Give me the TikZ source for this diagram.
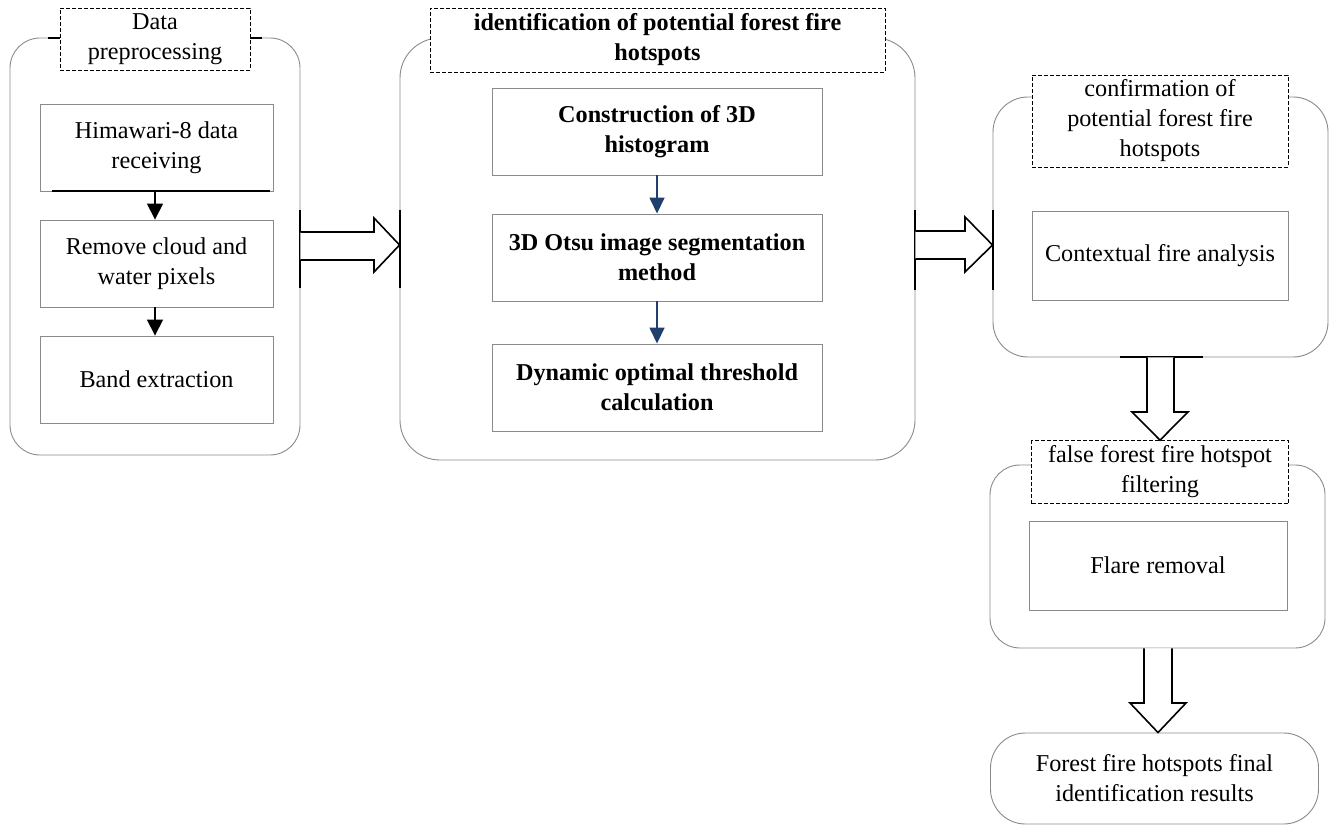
\documentclass[tikz,border=0pt]{standalone}
\usepackage{fontspec}
\setmainfont{Liberation Serif}
\usetikzlibrary{arrows.meta,calc}
\definecolor{navy}{HTML}{1F3F6E}
\definecolor{boxgray}{HTML}{8A8A8A}
\begin{document}
\begin{tikzpicture}[x=1pt,y=-1pt,
  txt/.style={font=\fontsize{24.2}{30}\selectfont, align=center},
  bftxt/.style={font=\fontsize{24.2}{30}\selectfont\bfseries},
  outerbox/.style={draw=boxgray, line width=0.9pt, rounded corners=#1, inner sep=0pt},
  innerbox/.style={txt, draw=boxgray, line width=0.9pt, inner sep=0pt, fill=white},
  titlebox/.style={txt, draw=black, dash pattern=on 4pt off 2pt, line width=0.7pt, inner sep=0pt, fill=white},
  smallarrow/.style={-{Triangle[length=16pt,width=16pt]}, line width=1.6pt, black},
  navyarrow/.style={-{Triangle[length=16pt,width=15pt]}, line width=1.6pt, navy},
  bar/.style={line width=2pt, black},
  bigarrow/.style={draw=black, line width=1.6pt, fill=white, line join=miter}
]
\useasboundingbox (0,0) rectangle (1336,826);

% ---------- box 1 ----------
\node[outerbox=30pt, minimum width=290pt, minimum height=417pt] (o1) at (155,246.5) {};
\draw[bar] (48,38) -- (60,38);
\draw[bar] (250,38) -- (262,38);
\node[titlebox, minimum width=190pt, minimum height=62pt] (t1) at (155,39) {Data\\preprocessing};
\node[innerbox, minimum width=233pt, minimum height=87pt] (a1) at (156.5,147.5) {Himawari-8 data\\receiving};
\draw[bar] (52,191) -- (270,191);
\node[innerbox, minimum width=233pt, minimum height=87pt] (a2) at (156.5,263.5) {Remove cloud and\\water pixels};
\node[innerbox, minimum width=233pt, minimum height=87pt] (a3) at (156.5,379.5) {Band extraction};
\draw[smallarrow] ($(a1.south)+(-1.5,0)$) -- ($(a2.north)+(-1.5,0)$);
\draw[smallarrow] ($(a2.south)+(-1.5,0)$) -- ($(a3.north)+(-1.5,0)$);

% ---------- box 2 ----------
\node[outerbox=40pt, minimum width=515pt, minimum height=422pt] (o2) at (657.5,249) {};
\node[titlebox, bftxt, minimum width=455pt, minimum height=64pt] (t2) at (657.5,40) {identification of potential forest fire\\hotspots};
\node[innerbox, bftxt, minimum width=330pt, minimum height=87pt] (b1) at (657,131.5) {Construction of 3D\\histogram};
\node[innerbox, bftxt, minimum width=330pt, minimum height=87pt] (b2) at (657,257.5) {3D Otsu image segmentation\\method};
\node[innerbox, bftxt, minimum width=330pt, minimum height=87pt] (b3) at (657,387.5) {Dynamic optimal threshold\\calculation};
\draw[navyarrow] (b1.south) -- (b2.north);
\draw[navyarrow] (b2.south) -- (b3.north);

% ---------- box 3 ----------
\node[outerbox=35pt, minimum width=335pt, minimum height=260pt] (o3) at (1160.5,227) {};
\node[titlebox, minimum width=256pt, minimum height=92pt] (t3) at (1160,121) {confirmation of\\potential forest fire\\hotspots};
\node[innerbox, minimum width=256pt, minimum height=89pt] (c1) at (1160,255.5) {Contextual fire analysis};

% ---------- box 4 ----------
\node[outerbox=30pt, minimum width=335pt, minimum height=183pt] (o4) at (1157.5,556.5) {};
\node[titlebox, minimum width=257pt, minimum height=63pt] (t4) at (1160,472) {false forest fire hotspot\\filtering};
\node[innerbox, minimum width=258pt, minimum height=89pt] (d1) at (1158,565.5) {Flare removal};

% ---------- box 5 ----------
\node[txt, outerbox=35pt, minimum width=328pt, minimum height=91pt] (o5) at (1154.5,778.5) {Forest fire hotspots final\\identification results};

% ---------- big arrows ----------
% box1 -> box2
\draw[bar] (o1.east |- 0,210) -- (o1.east |- 0,288);
\draw[bar] (o2.west |- 0,210) -- (o2.west |- 0,288);
\draw[bigarrow] (o1.east |- 0,232) -- (374,232) -- (374,218) -- (o2.west |- 0,245) -- (374,272) -- (374,260) -- (o1.east |- 0,260);
% box2 -> box3
\draw[bar] (o2.east |- 0,210) -- (o2.east |- 0,290);
\draw[bar] (o3.west |- 0,210) -- (o3.west |- 0,290);
\draw[bigarrow] (o2.east |- 0,231) -- (965,231) -- (965,217) -- (o3.west |- 0,245) -- (965,272) -- (965,259) -- (o2.east |- 0,259);
% box3 -> box4
\draw[bar] (1120,357) -- (1203,357);
\draw[bigarrow] (1147,0 |- o3.south) -- (1147,412) -- (1132,412) -- (1160,0 |- t4.north) -- (1188,412) -- (1174,412) -- (1174,0 |- o3.south);
% box4 -> box5
\draw[bigarrow] (1144,0 |- o4.south) -- (1144,703) -- (1130,703) -- (1158,0 |- o5.north) -- (1186,703) -- (1172,703) -- (1172,0 |- o4.south);
\end{tikzpicture}
\end{document}
